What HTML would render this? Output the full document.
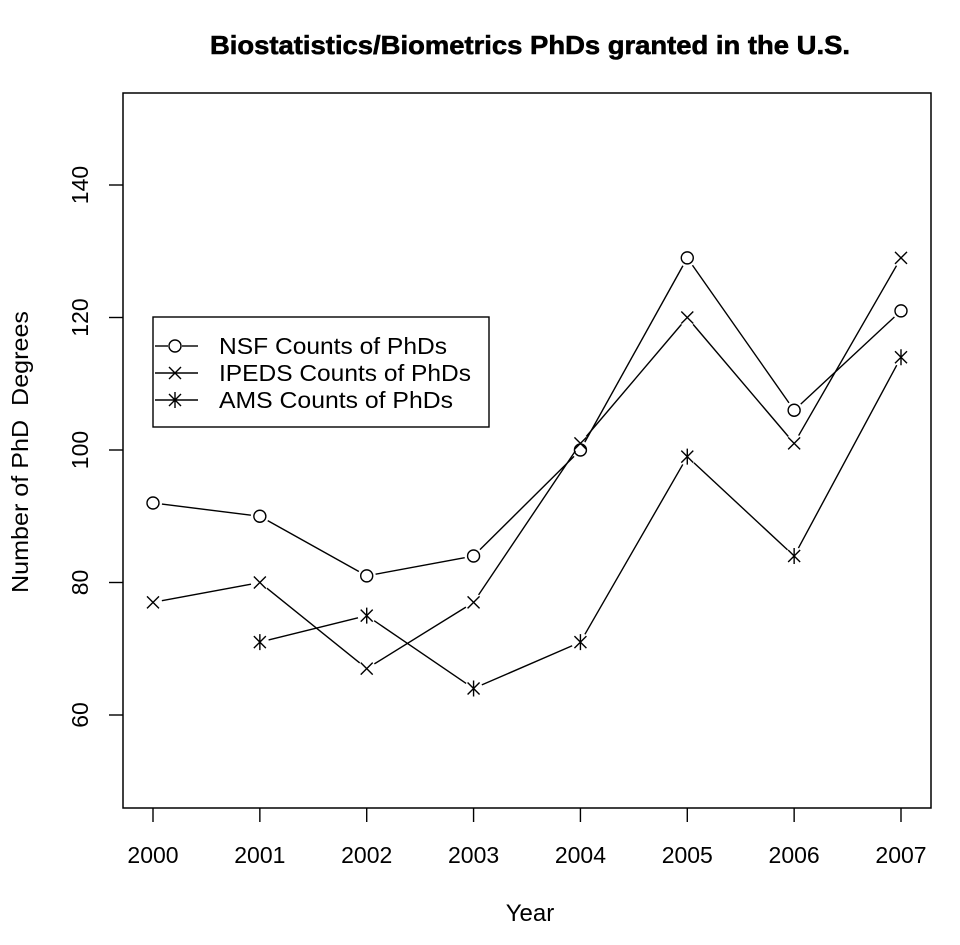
<!DOCTYPE html>
<html><head><meta charset="utf-8"><style>
html,body{margin:0;padding:0;background:#fff;}
svg text{font-family:"Liberation Sans",Arial,sans-serif;fill:#000;}
</style></head><body>
<svg id="s" width="960" height="940" xmlns="http://www.w3.org/2000/svg">
<rect x="123" y="93" width="808" height="715" fill="none" stroke="#000" stroke-width="1.5"/>
<text x="530" y="54" text-anchor="middle" font-size="26" font-weight="bold" textLength="640" lengthAdjust="spacingAndGlyphs" stroke="#000" stroke-width="0.6">Biostatistics/Biometrics PhDs granted in the U.S.</text>
<text x="530" y="921" text-anchor="middle" font-size="24">Year</text>
<text transform="translate(28,452) rotate(-90)" text-anchor="middle" font-size="23" textLength="282" lengthAdjust="spacingAndGlyphs" xml:space="preserve">Number of PhD  Degrees</text>
<g id="g" stroke="#000" stroke-width="1.4" fill="none"></g>
<g id="t" font-size="23"></g>
<rect x="153" y="317" width="336" height="110" fill="#fff" stroke="#000" stroke-width="1.4"/>
<g stroke="#000" stroke-width="1.4" fill="none">
<line x1="155" y1="346" x2="168" y2="346"/><line x1="182" y1="346" x2="198" y2="346"/><circle cx="175" cy="346" r="6"/>
<line x1="155" y1="373" x2="198" y2="373"/><path d="M169 367L181 379M169 379L181 367"/>
<line x1="155" y1="400" x2="198" y2="400"/><path d="M169 394L181 406M169 406L181 394M175 392V408"/>
</g>
<text x="219" y="354" font-size="23" textLength="228" lengthAdjust="spacingAndGlyphs">NSF Counts of PhDs</text>
<text x="219" y="381" font-size="23" textLength="252" lengthAdjust="spacingAndGlyphs">IPEDS Counts of PhDs</text>
<text x="219" y="408" font-size="23" textLength="234" lengthAdjust="spacingAndGlyphs">AMS Counts of PhDs</text>
</svg>
<script>
var g=document.getElementById('g'),t=document.getElementById('t'),NS='http://www.w3.org/2000/svg';
function X(i){return 153+i*748/7}function Y(v){return 715-(v-60)*6.625}
function el(p,n,a){var e=document.createElementNS(NS,n);for(var k in a)e.setAttribute(k,a[k]);p.appendChild(e);return e}
for(var i=0;i<8;i++){el(g,'line',{x1:X(i),y1:808,x2:X(i),y2:822});var tx=el(t,'text',{x:X(i),y:863,'text-anchor':'middle'});tx.textContent=2000+i;}
for(var v=60;v<=140;v+=20){el(g,'line',{x1:109,y1:Y(v),x2:123,y2:Y(v)});var tx=el(t,'text',{transform:'translate(88,'+Y(v)+') rotate(-90)','text-anchor':'middle'});tx.textContent=v;}
function series(start,d,type){var pts=d.map(function(v,j){return [X(start+j),Y(v)]});
for(var j=0;j<pts.length-1;j++){var a=pts[j],b=pts[j+1],dx=b[0]-a[0],dy=b[1]-a[1],L=Math.hypot(dx,dy),gp=9;
el(g,'line',{x1:a[0]+dx*gp/L,y1:a[1]+dy*gp/L,x2:b[0]-dx*gp/L,y2:b[1]-dy*gp/L});}
pts.forEach(function(p){var x=p[0],y=p[1];
if(type==0)el(g,'circle',{cx:x,cy:y,r:6});
else{el(g,'path',{d:'M'+(x-6)+' '+(y-6)+'L'+(x+6)+' '+(y+6)+'M'+(x-6)+' '+(y+6)+'L'+(x+6)+' '+(y-6)+(type==2?'M'+x+' '+(y-8)+'V'+(y+8):'')});}});}
series(0,[92,90,81,84,100,129,106,121],0);
series(0,[77,80,67,77,101,120,101,129],1);
series(1,[71,75,64,71,99,84,114],2);
</script>
</body></html>
